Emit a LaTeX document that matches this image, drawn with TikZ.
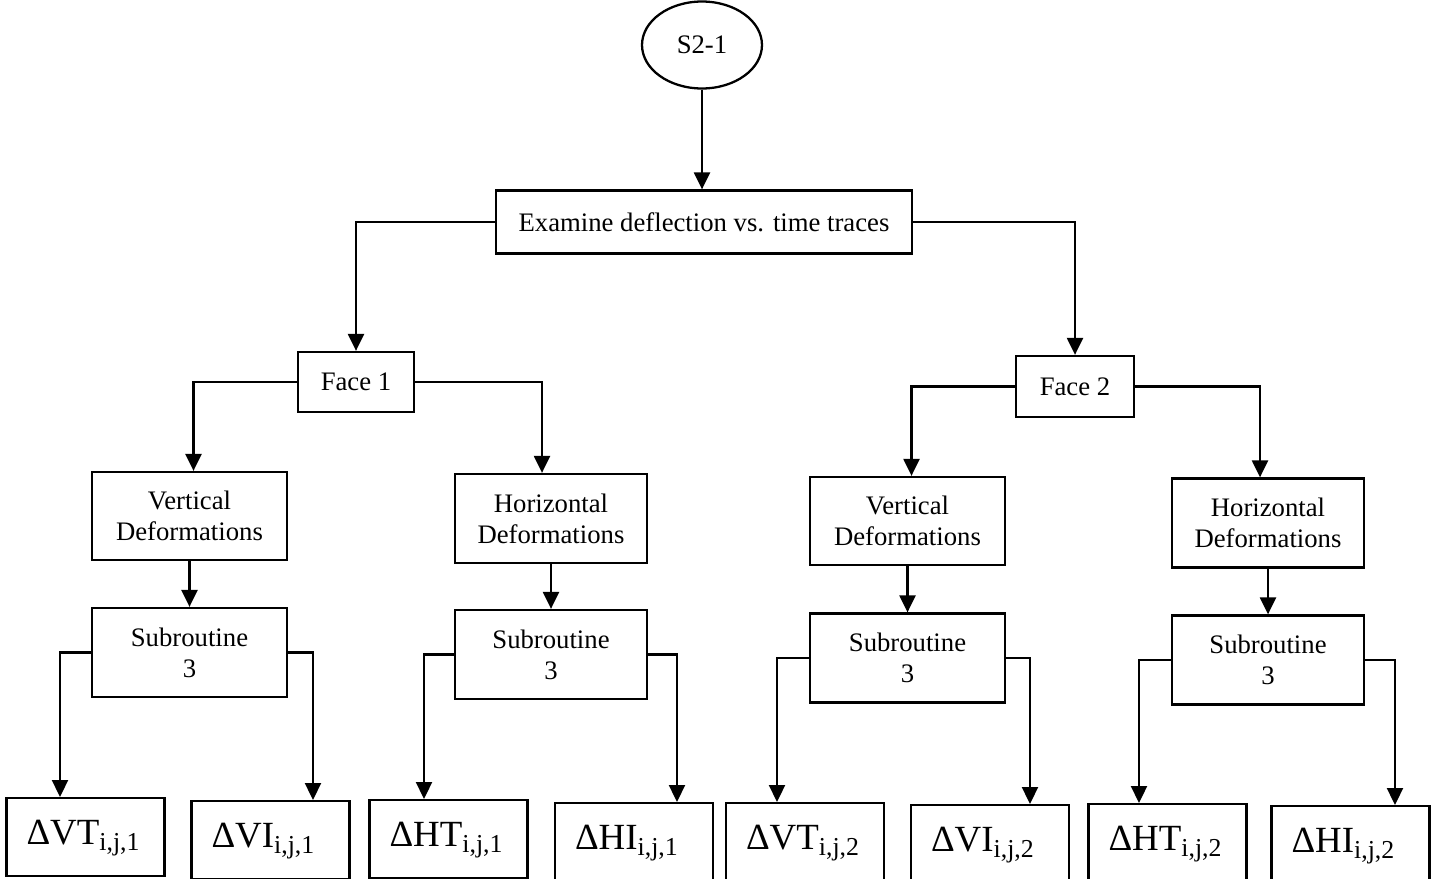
\documentclass[tikz,border=0pt]{standalone}
\usepackage{fontspec}
\setmainfont{Liberation Serif}
\usetikzlibrary{shapes.geometric,arrows.meta}

\begin{document}
\begin{tikzpicture}[x=0.02cm, y=-0.02cm, line width=1.3pt,
  every node/.style={font=\fontsize{15.2}{17.6}\selectfont},
  box/.style={draw, align=center, inner sep=0pt},
  oval/.style={draw, ellipse, inner sep=0pt},
  leaf/.style={draw, anchor=north, align=left, text width=2.36cm, inner xsep=0.4cm, inner ysep=0.05cm, text height=0.88cm, text depth=0.58cm, font=\fontsize{21}{25}\selectfont},
  arr/.style={-{Triangle[width=0.32cm,length=0.34cm]}}]
  \useasboundingbox (0,0) rectangle (1438,879);
  \node[oval, minimum width=2.4cm, minimum height=1.74cm] (s21) at (702,45) {S2-1};
  \node[box, minimum width=8.32cm, minimum height=1.26cm] (exam) at (704,222) {Examine deflection vs. time traces};
  \node[box, minimum width=2.32cm, minimum height=1.2cm] (face1) at (356,382) {Face 1};
  \node[box, minimum width=2.36cm, minimum height=1.22cm] (face2) at (1075,386.5) {Face 2};
  \node[box, minimum width=3.9cm, minimum height=1.76cm] (vd1) at (189.5,516) {Vertical\\Deformations};
  \node[box, minimum width=3.84cm, minimum height=1.78cm] (hd1) at (551,518.5) {Horizontal\\Deformations};
  \node[box, minimum width=3.9cm, minimum height=1.76cm] (vd2) at (907.5,521) {Vertical\\Deformations};
  \node[box, minimum width=3.84cm, minimum height=1.78cm] (hd2) at (1268,523) {Horizontal\\Deformations};
  \node[box, minimum width=3.9cm, minimum height=1.78cm] (s1v) at (189.5,652.5) {Subroutine\\3};
  \node[box, minimum width=3.84cm, minimum height=1.78cm] (s1h) at (551,654.5) {Subroutine\\3};
  \node[box, minimum width=3.9cm, minimum height=1.78cm] (s2v) at (907.5,658) {Subroutine\\3};
  \node[box, minimum width=3.84cm, minimum height=1.78cm] (s2h) at (1268,660) {Subroutine\\3};
  \node[leaf] (dvt1) at (85.5,797) {ΔVT\textsubscript{i,j,1}};
  \node[leaf] (dvi1) at (270.5,800) {ΔVI\textsubscript{i,j,1}};
  \node[leaf] (dht1) at (448.5,799) {ΔHT\textsubscript{i,j,1}};
  \node[leaf] (dhi1) at (634,802) {ΔHI\textsubscript{i,j,1}};
  \node[leaf] (dvt2) at (805,802) {ΔVT\textsubscript{i,j,2}};
  \node[leaf] (dvi2) at (990,804) {ΔVI\textsubscript{i,j,2}};
  \node[leaf] (dht2) at (1167.5,803) {ΔHT\textsubscript{i,j,2}};
  \node[leaf] (dhi2) at (1350.5,805) {ΔHI\textsubscript{i,j,2}};
  \draw[arr] (s21.south) -- (s21.south |- exam.north);
  \draw[arr] (exam.west) -| (face1.north);
  \draw[arr] (exam.east) -| (face2.north);
  \draw[arr] (face1.west) -| ([xshift=0.08cm]vd1.north);
  \draw[arr] (face1.east) -| ([xshift=-0.18cm]hd1.north);
  \draw[arr] (face2.west) -| ([xshift=0.08cm]vd2.north);
  \draw[arr] (face2.east) -| ([xshift=-0.16cm]hd2.north);
  \draw[arr] (vd1) -- (s1v);
  \draw[arr] (hd1) -- (s1h);
  \draw[arr] (vd2) -- (s2v);
  \draw[arr] (hd2) -- (s2h);
  \draw[arr] (s1v.west) -| ([xshift=-0.51cm]dvt1.north);
  \draw[arr] (s1v.east) -| ([xshift=0.85cm]dvi1.north);
  \draw[arr] (s1h.west) -| ([xshift=-0.49cm]dht1.north);
  \draw[arr] (s1h.east) -| ([xshift=0.86cm]dhi1.north);
  \draw[arr] (s2v.west) -| ([xshift=-0.56cm]dvt2.north);
  \draw[arr] (s2v.east) -| ([xshift=0.8cm]dvi2.north);
  \draw[arr] (s2h.west) -| ([xshift=-0.57cm]dht2.north);
  \draw[arr] (s2h.east) -| ([xshift=0.89cm]dhi2.north);
\end{tikzpicture}
\end{document}
